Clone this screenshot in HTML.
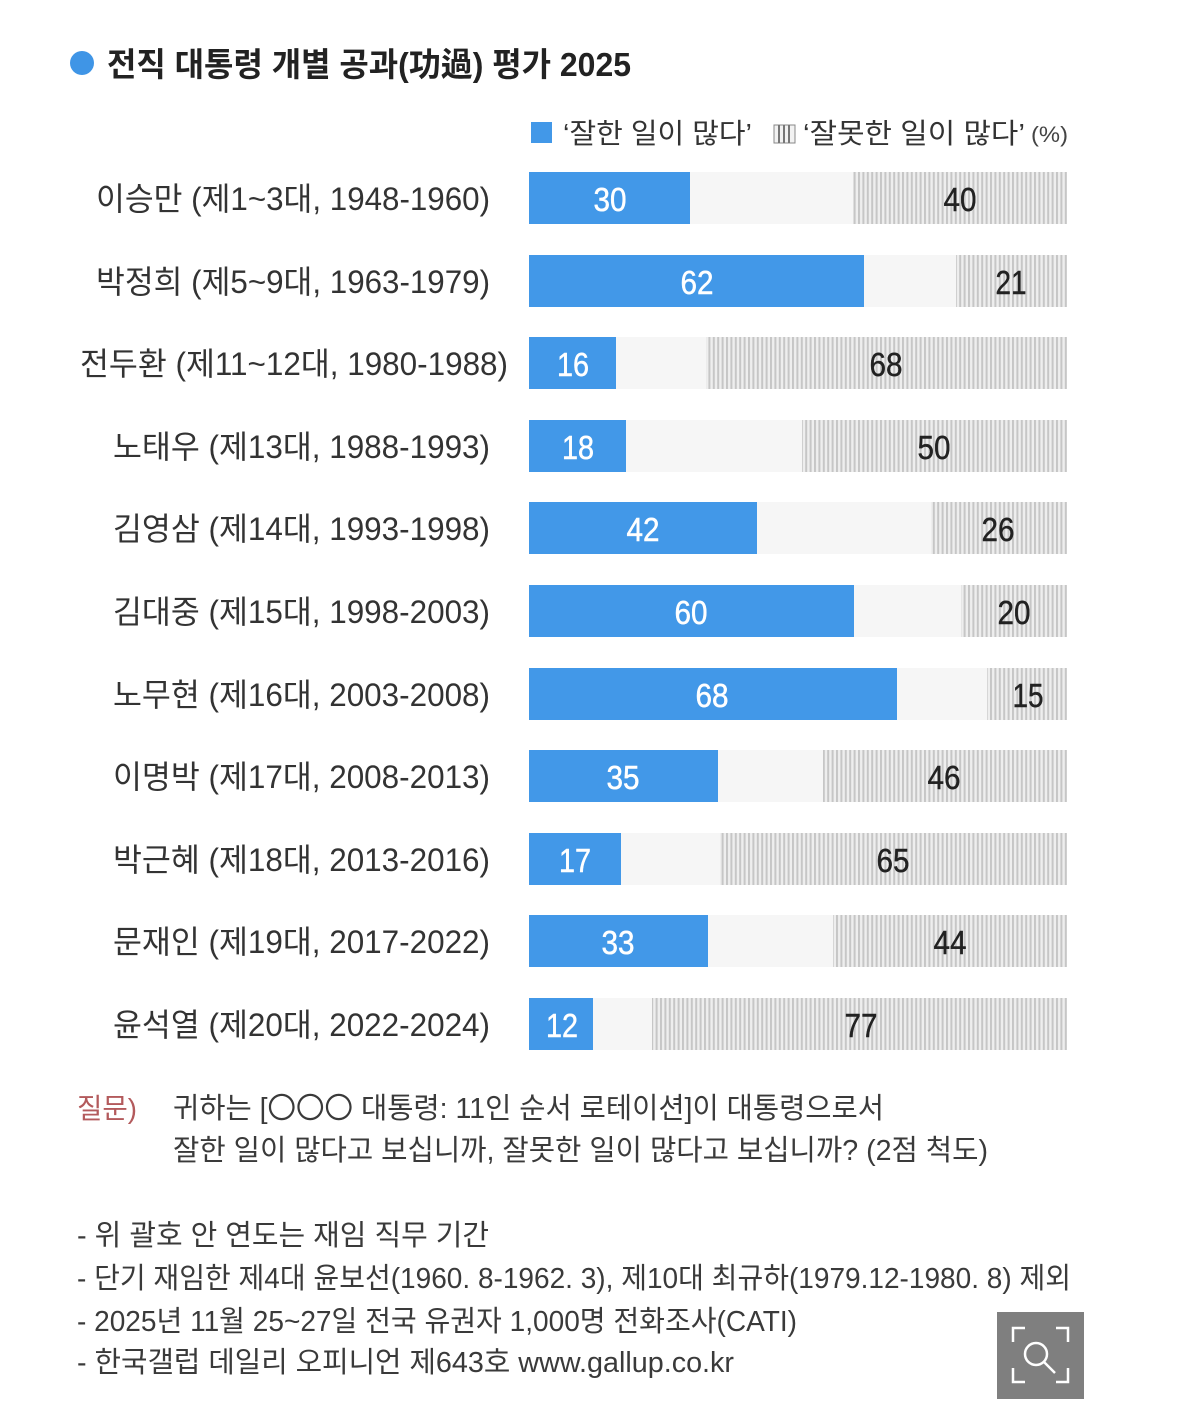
<!DOCTYPE html>
<html>
<head>
<meta charset="utf-8">
<style>
html,body{margin:0;padding:0;background:#fff;}
svg{display:block;}
text{font-family:"Liberation Sans","Noto Sans CJK KR",sans-serif;}
.lb{font-size:32px;fill:#333;}
.vw{font-size:33px;fill:#fff;stroke:#fff;stroke-width:0.5;}
.vk{font-size:33px;fill:#222;stroke:#222;stroke-width:0.4;}
.nt{font-size:29px;fill:#3a3a3a;}
</style>
</head>
<body>
<svg width="1179" height="1418" viewBox="0 0 1179 1418" xmlns="http://www.w3.org/2000/svg">
<defs>
<pattern id="st" patternUnits="userSpaceOnUse" width="4.4" height="10">
<rect width="4.4" height="10" fill="#eeeeee"/>
<rect x="0" width="2" height="10" fill="#c6c6c6"/>
</pattern>
</defs>
<rect width="1179" height="1418" fill="#fff"/>

<!-- title -->
<circle cx="82" cy="63" r="12" fill="#3f95e6"/>
<text x="107" y="76" font-size="33" font-weight="bold" fill="#222" textLength="524" lengthAdjust="spacingAndGlyphs">전직 대통령 개별 공과(功過) 평가 2025</text>

<!-- legend -->
<rect x="531" y="122" width="21" height="21" fill="#4298e8"/>
<text x="563" y="143" font-size="28" fill="#333" textLength="189" lengthAdjust="spacingAndGlyphs">‘잘한 일이 많다’</text>
<g>
<rect x="774" y="125" width="21" height="18" fill="#f2f2f2" stroke="#888" stroke-width="1"/>
<rect x="778" y="125" width="2" height="18" fill="#777"/>
<rect x="783" y="125" width="2" height="18" fill="#777"/>
<rect x="788" y="125" width="2" height="18" fill="#777"/>
</g>
<text x="803" y="143" font-size="28" fill="#333" textLength="222" lengthAdjust="spacingAndGlyphs">‘잘못한 일이 많다’</text>
<text x="1031" y="142" font-size="22" fill="#444" textLength="37" lengthAdjust="spacingAndGlyphs">(%)</text>

<!-- rows -->
<g>
<rect x="529" y="172" width="538" height="52" fill="#f6f6f6"/>
<rect x="529" y="172" width="161" height="52" fill="#4298e8"/>
<rect x="853" y="172" width="214" height="52" fill="url(#st)"/>
<text class="lb" x="490" y="210" text-anchor="end" textLength="394" lengthAdjust="spacingAndGlyphs">이승만 (제1~3대, 1948-1960)</text>
<text class="vw" x="610" y="211" text-anchor="middle" textLength="33" lengthAdjust="spacingAndGlyphs">30</text>
<text class="vk" x="960" y="211" text-anchor="middle" textLength="33" lengthAdjust="spacingAndGlyphs">40</text>

<rect x="529" y="255" width="538" height="52" fill="#f6f6f6"/>
<rect x="529" y="255" width="335" height="52" fill="#4298e8"/>
<rect x="956" y="255" width="111" height="52" fill="url(#st)"/>
<text class="lb" x="490" y="293" text-anchor="end" textLength="394" lengthAdjust="spacingAndGlyphs">박정희 (제5~9대, 1963-1979)</text>
<text class="vw" x="697" y="294" text-anchor="middle" textLength="33" lengthAdjust="spacingAndGlyphs">62</text>
<text class="vk" x="1011" y="294" text-anchor="middle" textLength="31" lengthAdjust="spacingAndGlyphs">21</text>

<rect x="529" y="337" width="538" height="52" fill="#f6f6f6"/>
<rect x="529" y="337" width="87" height="52" fill="#4298e8"/>
<rect x="706" y="337" width="361" height="52" fill="url(#st)"/>
<text class="lb" x="508" y="375" text-anchor="end" textLength="428" lengthAdjust="spacingAndGlyphs">전두환 (제11~12대, 1980-1988)</text>
<text class="vw" x="573" y="376" text-anchor="middle" textLength="32" lengthAdjust="spacingAndGlyphs">16</text>
<text class="vk" x="886" y="376" text-anchor="middle" textLength="33" lengthAdjust="spacingAndGlyphs">68</text>

<rect x="529" y="420" width="538" height="52" fill="#f6f6f6"/>
<rect x="529" y="420" width="97" height="52" fill="#4298e8"/>
<rect x="802" y="420" width="265" height="52" fill="url(#st)"/>
<text class="lb" x="490" y="458" text-anchor="end" textLength="377" lengthAdjust="spacingAndGlyphs">노태우 (제13대, 1988-1993)</text>
<text class="vw" x="578" y="459" text-anchor="middle" textLength="32" lengthAdjust="spacingAndGlyphs">18</text>
<text class="vk" x="934" y="459" text-anchor="middle" textLength="33" lengthAdjust="spacingAndGlyphs">50</text>

<rect x="529" y="502" width="538" height="52" fill="#f6f6f6"/>
<rect x="529" y="502" width="228" height="52" fill="#4298e8"/>
<rect x="931" y="502" width="136" height="52" fill="url(#st)"/>
<text class="lb" x="490" y="540" text-anchor="end" textLength="377" lengthAdjust="spacingAndGlyphs">김영삼 (제14대, 1993-1998)</text>
<text class="vw" x="643" y="541" text-anchor="middle" textLength="33" lengthAdjust="spacingAndGlyphs">42</text>
<text class="vk" x="998" y="541" text-anchor="middle" textLength="33" lengthAdjust="spacingAndGlyphs">26</text>

<rect x="529" y="585" width="538" height="52" fill="#f6f6f6"/>
<rect x="529" y="585" width="325" height="52" fill="#4298e8"/>
<rect x="961" y="585" width="106" height="52" fill="url(#st)"/>
<text class="lb" x="490" y="623" text-anchor="end" textLength="377" lengthAdjust="spacingAndGlyphs">김대중 (제15대, 1998-2003)</text>
<text class="vw" x="691" y="624" text-anchor="middle" textLength="33" lengthAdjust="spacingAndGlyphs">60</text>
<text class="vk" x="1014" y="624" text-anchor="middle" textLength="33" lengthAdjust="spacingAndGlyphs">20</text>

<rect x="529" y="668" width="538" height="52" fill="#f6f6f6"/>
<rect x="529" y="668" width="368" height="52" fill="#4298e8"/>
<rect x="987" y="668" width="80" height="52" fill="url(#st)"/>
<text class="lb" x="490" y="706" text-anchor="end" textLength="377" lengthAdjust="spacingAndGlyphs">노무현 (제16대, 2003-2008)</text>
<text class="vw" x="712" y="707" text-anchor="middle" textLength="33" lengthAdjust="spacingAndGlyphs">68</text>
<text class="vk" x="1028" y="707" text-anchor="middle" textLength="31" lengthAdjust="spacingAndGlyphs">15</text>

<rect x="529" y="750" width="538" height="52" fill="#f6f6f6"/>
<rect x="529" y="750" width="189" height="52" fill="#4298e8"/>
<rect x="823" y="750" width="244" height="52" fill="url(#st)"/>
<text class="lb" x="490" y="788" text-anchor="end" textLength="377" lengthAdjust="spacingAndGlyphs">이명박 (제17대, 2008-2013)</text>
<text class="vw" x="623" y="789" text-anchor="middle" textLength="33" lengthAdjust="spacingAndGlyphs">35</text>
<text class="vk" x="944" y="789" text-anchor="middle" textLength="33" lengthAdjust="spacingAndGlyphs">46</text>

<rect x="529" y="833" width="538" height="52" fill="#f6f6f6"/>
<rect x="529" y="833" width="92" height="52" fill="#4298e8"/>
<rect x="720" y="833" width="347" height="52" fill="url(#st)"/>
<text class="lb" x="490" y="871" text-anchor="end" textLength="377" lengthAdjust="spacingAndGlyphs">박근혜 (제18대, 2013-2016)</text>
<text class="vw" x="575" y="872" text-anchor="middle" textLength="32" lengthAdjust="spacingAndGlyphs">17</text>
<text class="vk" x="893" y="872" text-anchor="middle" textLength="33" lengthAdjust="spacingAndGlyphs">65</text>

<rect x="529" y="915" width="538" height="52" fill="#f6f6f6"/>
<rect x="529" y="915" width="179" height="52" fill="#4298e8"/>
<rect x="833" y="915" width="234" height="52" fill="url(#st)"/>
<text class="lb" x="490" y="953" text-anchor="end" textLength="377" lengthAdjust="spacingAndGlyphs">문재인 (제19대, 2017-2022)</text>
<text class="vw" x="618" y="954" text-anchor="middle" textLength="33" lengthAdjust="spacingAndGlyphs">33</text>
<text class="vk" x="950" y="954" text-anchor="middle" textLength="33" lengthAdjust="spacingAndGlyphs">44</text>

<rect x="529" y="998" width="538" height="52" fill="#f6f6f6"/>
<rect x="529" y="998" width="64" height="52" fill="#4298e8"/>
<rect x="652" y="998" width="415" height="52" fill="url(#st)"/>
<text class="lb" x="490" y="1036" text-anchor="end" textLength="377" lengthAdjust="spacingAndGlyphs">윤석열 (제20대, 2022-2024)</text>
<text class="vw" x="562" y="1037" text-anchor="middle" textLength="32" lengthAdjust="spacingAndGlyphs">12</text>
<text class="vk" x="861" y="1037" text-anchor="middle" textLength="33" lengthAdjust="spacingAndGlyphs">77</text>
</g>

<!-- question -->
<text x="77" y="1118" font-size="28" fill="#b35a5c" textLength="60" lengthAdjust="spacingAndGlyphs">질문)</text>
<text class="nt" x="173" y="1118" textLength="711" lengthAdjust="spacingAndGlyphs">귀하는 [〇〇〇 대통령: 11인 순서 로테이션]이 대통령으로서</text>
<text class="nt" x="173" y="1160" textLength="815" lengthAdjust="spacingAndGlyphs">잘한 일이 많다고 보십니까, 잘못한 일이 많다고 보십니까? (2점 척도)</text>

<!-- notes -->
<text class="nt" x="77" y="1245" textLength="412" lengthAdjust="spacingAndGlyphs">- 위 괄호 안 연도는 재임 직무 기간</text>
<text class="nt" x="77" y="1288" textLength="994" lengthAdjust="spacingAndGlyphs">- 단기 재임한 제4대 윤보선(1960. 8-1962. 3), 제10대 최규하(1979.12-1980. 8) 제외</text>
<text class="nt" x="77" y="1331" textLength="720" lengthAdjust="spacingAndGlyphs">- 2025년 11월 25~27일 전국 유권자 1,000명 전화조사(CATI)</text>
<text class="nt" x="77" y="1372" textLength="657" lengthAdjust="spacingAndGlyphs">- 한국갤럽 데일리 오피니언 제643호 www.gallup.co.kr</text>

<!-- magnifier button -->
<rect x="997" y="1312" width="87" height="87" fill="#7f7f7f"/>
<g fill="none" stroke="#fff" stroke-width="2.5">
<path d="M1013 1342 V1328 H1025"/>
<path d="M1056 1328 H1068 V1342"/>
<path d="M1013 1368 V1382 H1025"/>
<path d="M1056 1382 H1068 V1368"/>
<circle cx="1036" cy="1354" r="11"/>
<path d="M1044 1362 L1055 1373"/>
</g>
</svg>
</body>
</html>
